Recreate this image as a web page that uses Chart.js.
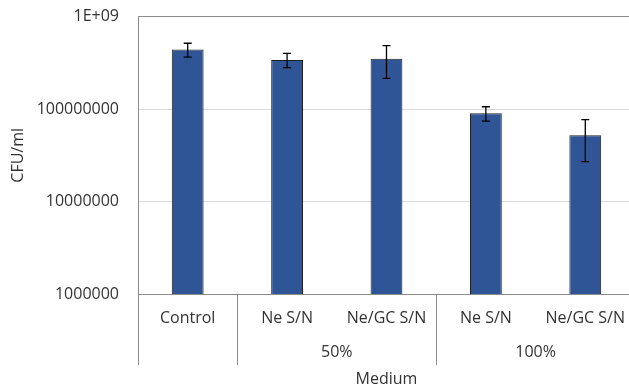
<!DOCTYPE html>
<html>
<head>
<meta charset="utf-8">
<script src="https://cdn.jsdelivr.net/npm/chart.js@4"></script>
<style>
  html, body { margin: 0; padding: 0; background: #fff; overflow: hidden; }
  #wrap { width: 640px; height: 402px; margin-top: -12px; }
</style>
</head>
<body>
<div id="wrap"><canvas id="chart" width="640" height="402"></canvas></div>
<script>
// data
const categories = ['Control', 'Ne S/N', 'Ne/GC S/N', 'Ne S/N', 'Ne/GC S/N'];
const groups = ['', '50%', '50%', '100%', '100%'];
const cfuValues = [4.4e8, 3.4e8, 3.5e8, 9.0e7, 5.2e7];
const cfuErrors = [0.75e8, 0.6e8, 1.35e8, 1.6e7, 2.5e7];
const yTicks = [1e6, 1e7, 1e8, 1e9];

const textColor = '#333333';
const lineColor = '#8c8c8c';
const fontFamily = '"Open Sans", "Noto Sans", sans-serif';

// error bars + the grouped category row under the x axis
const extrasPlugin = {
    id: 'extras',
    afterDatasetsDraw(chart) {
        const ctx = chart.ctx;
        const x = chart.scales.x;
        const y = chart.scales.y;
        ctx.save();
        ctx.strokeStyle = '#000';
        ctx.lineWidth = 1.3;
        cfuValues.forEach((v, i) => {
            const px = x.getPixelForValue(i);
            const top = y.getPixelForValue(v + cfuErrors[i]);
            const bot = y.getPixelForValue(v - cfuErrors[i]);
            ctx.beginPath();
            ctx.moveTo(px, top); ctx.lineTo(px, bot);
            ctx.moveTo(px - 4, top); ctx.lineTo(px + 4, top);
            ctx.moveTo(px - 4, bot); ctx.lineTo(px + 4, bot);
            ctx.stroke();
        });
        ctx.restore();
    },
    afterDraw(chart) {
        const ctx = chart.ctx;
        const x = chart.scales.x;
        const half = (x.getPixelForValue(1) - x.getPixelForValue(0)) / 2;
        const top = chart.chartArea.bottom;
        ctx.save();
        ctx.strokeStyle = lineColor;
        ctx.lineWidth = 1;
        // separators where the group changes
        groups.forEach((g, i) => {
            if (i === 0 || g !== groups[i - 1]) {
                const px = Math.round(x.getPixelForValue(i) - half) + 0.5;
                ctx.beginPath();
                ctx.moveTo(px, top);
                ctx.lineTo(px, top + 71);
                ctx.stroke();
            }
        });
        // group labels
        ctx.fillStyle = textColor;
        ctx.font = '16px ' + fontFamily;
        ctx.textAlign = 'center';
        ctx.textBaseline = 'middle';
        let start = 0;
        for (let i = 1; i <= groups.length; i++) {
            if (i === groups.length || groups[i] !== groups[start]) {
                if (groups[start]) {
                    const mid = (x.getPixelForValue(start) + x.getPixelForValue(i - 1)) / 2;
                    ctx.fillText(groups[start], mid, top + 58);
                }
                start = i;
            }
        }
        ctx.restore();
    }
};

new Chart(document.getElementById('chart'), {
    type: 'bar',
    data: {
        labels: categories,
        datasets: [{
            data: cfuValues,
            backgroundColor: '#2f5597',
            borderColor: '#1f1f1f',
            borderWidth: 1,
            barPercentage: 0.32,
            categoryPercentage: 1.0
        }]
    },
    options: {
        responsive: false,
        animation: false,
        layout: { padding: 0 },
        plugins: {
            legend: { display: false },
            tooltip: { enabled: false }
        },
        scales: {
            x: {
                type: 'category',
                offset: true,
                grid: { display: false, drawTicks: false },
                border: { display: true, color: lineColor },
                ticks: {
                    color: textColor,
                    font: { family: fontFamily, size: 16 },
                    padding: 15,
                    maxRotation: 0,
                    autoSkip: false
                },
                title: {
                    display: true,
                    text: 'Medium',
                    color: textColor,
                    font: { family: fontFamily, size: 16 },
                    padding: { top: 0, bottom: 1 }
                },
                afterFit(scale) { scale.height = 96; }
            },
            y: {
                type: 'logarithmic',
                min: 1e6,
                max: 1e9,
                afterBuildTicks(scale) {
                    scale.ticks = yTicks.map(v => ({ value: v }));
                },
                grid: {
                    drawTicks: false,
                    color: ctx => (ctx.tick && ctx.tick.value === 1e9) ? lineColor : '#d9d9d9'
                },
                border: { display: true, color: lineColor },
                ticks: {
                    color: textColor,
                    font: { family: fontFamily, size: 16 },
                    padding: 19,
                    callback: v => v === 1e9 ? '1E+09' : String(v)
                },
                title: {
                    display: true,
                    text: 'CFU/ml',
                    color: textColor,
                    font: { family: fontFamily, size: 16 },
                    padding: { top: 9, bottom: 0 }
                },
                afterFit(scale) { scale.width = 138; }
            }
        }
    },
    plugins: [extrasPlugin]
});
</script>
</body>
</html>
